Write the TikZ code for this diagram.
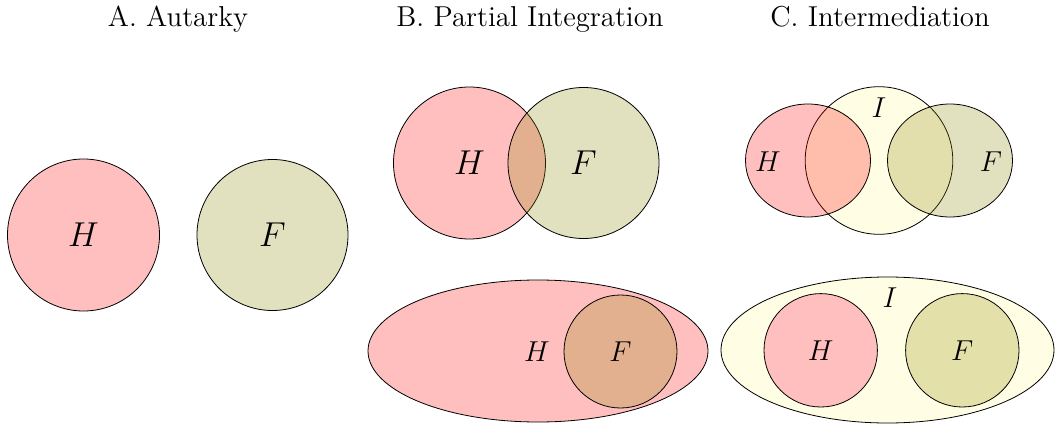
\documentclass[tikz,border=0pt]{standalone}
\usetikzlibrary{shapes.geometric}
\tikzset{
  setH/.style={draw, fill=red, fill opacity=0.25, text opacity=1, inner sep=0pt},
  setF/.style={draw, fill=olive, fill opacity=0.25, text opacity=1, inner sep=0pt},
  setHs/.style={draw, fill=red!25, inner sep=0pt},
  setFs/.style={draw, fill=olive!25, inner sep=0pt},
  setI/.style={draw, fill=yellow, fill opacity=0.1, text opacity=1, inner sep=0pt},
  ttl/.style={font=\Large, inner sep=0pt, anchor=base},
  lbl/.style={inner sep=0pt},
}
\begin{document}
\begin{tikzpicture}[x=0.5pt,y=-0.5pt]
\useasboundingbox (0,0) rectangle (1055,428);
% titles
\node[ttl] (tA) at (178,26.5) {A. Autarky};
\node[ttl] (tB) at (530,26.5) {B. Partial Integration};
\node[ttl] (tC) at (880,26.5) {C. Intermediation};
% Panel A
\node[setH, circle, minimum size=76pt] (aH) at (83.5,235) {};
\node[setF, circle, minimum size=75.5pt] (aF) at (272.5,235) {};
\node[lbl, font=\LARGE] (aHl) at (aH.center) {$H$};
\node[lbl, font=\LARGE] (aFl) at (aF.center) {$F$};
% Panel B top
\node[setH, circle, minimum size=76pt] (bH) at (469.5,163) {};
\node[setF, circle, minimum size=75.5pt] (bF) at (583.5,163) {};
\node[lbl, font=\LARGE] (bHl) at (bH.center) {$H$};
\node[lbl, font=\LARGE] (bFl) at (bF.center) {$F$};
% Panel B bottom
\node[setH, ellipse, minimum width=170pt, minimum height=71pt] (bH2) at (538,351) {};
\node[setF, circle, minimum size=56.5pt] (bF2) at (620.5,351.5) {};
\node[lbl, font=\Large] (bH2l) at (537,352) {$H$};
\node[lbl, font=\Large] (bF2l) at (bF2.center) {$F$};
% Panel C top
\node[setI, circle, minimum size=73.8pt] (cI) at (879,160.5) {};
\node[setH, ellipse, minimum width=62.5pt, minimum height=56.5pt] (cH) at (808,160.5) {};
\node[setF, ellipse, minimum width=62.5pt, minimum height=56.5pt] (cF) at (950,160.5) {};
\node[lbl, font=\Large] (cHl) at (768,162) {$H$};
\node[lbl, font=\Large] (cIl) at (879,108) {$I$};
\node[lbl, font=\Large] (cFl) at (991,162) {$F$};
% Panel C bottom
\node[setI, ellipse, minimum width=166.5pt, minimum height=73pt] (cI2) at (887.5,350) {};
\node[setHs, circle, minimum size=56.7pt] (cH2) at (820.7,350.3) {};
\node[setFs, circle, minimum size=56.7pt] (cF2) at (962.3,350.3) {};
\node[lbl, font=\Large] (cH2l) at (cH2.center) {$H$};
\node[lbl, font=\Large] (cF2l) at (cF2.center) {$F$};
\node[lbl, font=\Large] (cI2l) at (890,298) {$I$};
\end{tikzpicture}
\end{document}
